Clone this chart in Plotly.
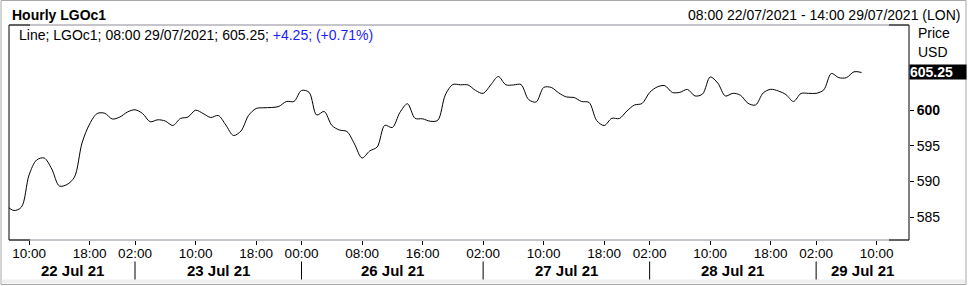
import plotly.graph_objects as go
import pandas as pd

# ---------------- data ----------------
# trading sessions (hourly bars, labelled by bar time, London)
session_days = ["2021-07-22", "2021-07-23", "2021-07-26", "2021-07-27", "2021-07-28", "2021-07-29"]
session_first_hour = [7, 2, 0, 2, 2, 2]
session_last_hour = [23, 23, 23, 23, 23, 14]

prices = [
    # 22 Jul 07:00 .. 23:00
    586.65, 585.95, 586.44, 590.91, 593.01, 593.29, 591.75, 589.38, 589.58,
    590.63, 595.39, 598.04, 599.51, 599.54, 598.74, 599.02, 599.72,
    # 23 Jul 02:00 .. 23:00
    600.03, 599.51, 598.36, 598.63, 598.46, 597.83, 598.81, 599.02, 599.97,
    599.51, 598.95, 599.23, 597.90, 596.44, 597.06, 599.23, 600.21, 600.31,
    600.35, 600.49, 601.19, 601.19,
    # 26 Jul 00:00 .. 23:00
    602.73, 602.47, 599.30, 599.79, 597.86, 597.20, 596.99, 595.25, 593.29,
    594.27, 594.83, 597.86, 597.55, 599.65, 600.87, 598.84, 598.77, 598.43,
    598.56, 602.10, 603.56, 603.52, 603.50, 602.73,
    # 27 Jul 02:00 .. 23:00
    602.33, 603.50, 604.68, 603.52, 603.50, 603.56, 601.47, 601.12, 603.15,
    603.15, 602.38, 601.82, 601.75, 601.19, 601.05, 598.53, 597.83, 598.84,
    598.81, 599.86, 600.70, 600.91,
    # 28 Jul 02:00 .. 23:00
    602.45, 603.22, 603.40, 602.45, 602.47, 602.87, 601.96, 602.24, 604.61,
    603.77, 601.96, 602.33, 602.06, 600.94, 600.70, 602.38, 602.89, 602.66,
    602.17, 601.19, 602.31, 602.33,
    # 29 Jul 02:00 .. 08:00
    602.33, 602.80, 605.10, 604.52, 604.52, 605.34, 605.25,
]

tick_times = [
    "2021-07-22 10:00", "2021-07-22 18:00", "2021-07-23 02:00", "2021-07-23 10:00",
    "2021-07-23 18:00", "2021-07-26 00:00", "2021-07-26 08:00", "2021-07-26 16:00",
    "2021-07-27 02:00", "2021-07-27 10:00", "2021-07-27 18:00", "2021-07-28 02:00",
    "2021-07-28 10:00", "2021-07-28 18:00", "2021-07-29 02:00", "2021-07-29 10:00",
]
day_labels = ["22 Jul 21", "23 Jul 21", "26 Jul 21", "27 Jul 21", "28 Jul 21", "29 Jul 21"]
y_ticks = [585, 590, 595, 600]
y_tick_text = ["585", "590", "595", "<b>600</b>"]

title_text = "Hourly LGOc1"
range_text = "08:00 22/07/2021 - 14:00 29/07/2021 (LON)"
legend_black = "Line; LGOc1; 08:00 29/07/2021; 605.25; "
legend_blue = "+4.25; (+0.71%)"
last_label = "605.25"

# ---------------- build trading-time index ----------------
timeline = []
day_start_idx = []
for d, h0, h1 in zip(session_days, session_first_hour, session_last_hour):
    day_start_idx.append(len(timeline))
    for h in range(h0, h1 + 1):
        timeline.append(pd.Timestamp(d) + pd.Timedelta(hours=h))
pos = {t: i for i, t in enumerate(timeline)}
x_vals = list(range(len(prices)))
tick_vals = [pos[pd.Timestamp(t)] for t in tick_times]
tick_text = [pd.Timestamp(t).strftime("%H:%M") for t in tick_times]

start_idx = pos[pd.Timestamp("2021-07-22 08:00")]
end_idx = pos[pd.Timestamp("2021-07-29 14:00")]
x_range = [start_idx - 0.65, end_idx + 0.27]
y_range = [581.83, 611.88]

FONT = "Liberation Sans, Arial, sans-serif"

fig = go.Figure()
fig.add_trace(go.Scatter(
    x=x_vals, y=prices, mode="lines",
    line=dict(color="black", width=1, shape="spline", smoothing=0.9),
    hoverinfo="skip", showlegend=False,
))

# plot-area geometry in px (for paper conversions)
L, R, T, B = 9, 909, 25, 240
W, H = 968, 286
def px(xp):
    return (xp - L) / (R - L)
def py(yp):
    return (B - yp) / (B - T)

shapes = []
# frame
shapes.append(dict(type="line", xref="paper", yref="paper", x0=0, x1=0, y0=0, y1=1, line=dict(color="black", width=1)))
shapes.append(dict(type="line", xref="paper", yref="paper", x0=1, x1=1, y0=0, y1=1, line=dict(color="black", width=1)))
for yy in (0, 1):
    shapes.append(dict(type="line", xref="paper", yref="paper", x0=0, x1=1, y0=yy, y1=yy, line=dict(color="#8a8a96", width=1)))
    shapes.append(dict(type="line", xref="paper", yref="paper", x0=0, x1=px(30), y0=yy, y1=yy, line=dict(color="black", width=1)))
    shapes.append(dict(type="line", xref="paper", yref="paper", x0=px(889), x1=1, y0=yy, y1=yy, line=dict(color="black", width=1)))
# light band at bottom and outer border
shapes.append(dict(type="rect", xref="paper", yref="paper", x0=px(2), x1=px(965), y0=py(283.5), y1=py(279.5),
                   fillcolor="#efefef", line=dict(width=0), layer="below"))
shapes.append(dict(type="rect", xref="paper", yref="paper", x0=px(1), x1=px(966), y0=py(284.5), y1=py(0.5),
                   line=dict(color="#a8a8a8", width=1)))
# day separators
for i in day_start_idx[1:]:
    shapes.append(dict(type="line", xref="x", yref="paper", x0=i, x1=i, y0=py(261.5), y1=py(279.5),
                       line=dict(color="black", width=1)))

annotations = []
# date labels centred in each day segment
bounds = [x_range[0]] + day_start_idx[1:] + [x_range[1]]
for k, lab in enumerate(day_labels):
    annotations.append(dict(x=(bounds[k] + bounds[k + 1]) / 2, xref="x", y=py(270), yref="paper",
                            text=f"<b>{lab}</b>", showarrow=False, xanchor="center", yanchor="middle",
                            font=dict(family=FONT, size=15, color="black")))
annotations.append(dict(x=px(10), xref="paper", y=py(15), yref="paper", text=f"<b>{title_text}</b>",
                        showarrow=False, xanchor="left", yanchor="middle",
                        font=dict(family=FONT, size=14, color="black")))
annotations.append(dict(x=px(962), xref="paper", y=py(15), yref="paper", text=range_text,
                        showarrow=False, xanchor="right", yanchor="middle",
                        font=dict(family=FONT, size=14, color="black")))
annotations.append(dict(x=px(17), xref="paper", y=py(35), yref="paper",
                        text=legend_black + f"<span style='color:#1a1aff'>{legend_blue}</span>",
                        showarrow=False, xanchor="left", yanchor="middle",
                        font=dict(family=FONT, size=14, color="black")))
annotations.append(dict(x=px(916), xref="paper", y=py(33), yref="paper", text="Price",
                        showarrow=False, xanchor="left", yanchor="middle",
                        font=dict(family=FONT, size=14, color="black")))
annotations.append(dict(x=px(916), xref="paper", y=py(51.5), yref="paper", text="USD",
                        showarrow=False, xanchor="left", yanchor="middle",
                        font=dict(family=FONT, size=14, color="black")))
annotations.append(dict(x=1, xref="paper", y=prices[-1], yref="y", text=f"<b>{last_label}</b>",
                        showarrow=False, xanchor="left", yanchor="middle", align="left",
                        bgcolor="black", borderpad=0, width=56, height=14,
                        font=dict(family=FONT, size=14, color="white")))

fig.update_layout(
    width=W, height=H,
    margin=dict(l=L, r=W - R, t=T, b=H - B, pad=0),
    paper_bgcolor="white", plot_bgcolor="white",
    shapes=shapes, annotations=annotations,
    font=dict(family=FONT, size=13, color="black"),
    xaxis=dict(range=x_range, tickmode="array", tickvals=tick_vals, ticktext=tick_text,
               ticks="outside", ticklen=4, tickcolor="black", showgrid=False, zeroline=False,
               ticklabelstandoff=-3,
               showline=False, tickfont=dict(family=FONT, size=13.5, color="black"), fixedrange=True),
    yaxis=dict(range=y_range, side="right", tickmode="array", tickvals=y_ticks, ticktext=y_tick_text,
               ticks="outside", ticklen=4, tickcolor="black", showgrid=False, zeroline=False,
               showline=False, tickfont=dict(family=FONT, size=14, color="black"), fixedrange=True),
)

fig.write_html("out.html")
